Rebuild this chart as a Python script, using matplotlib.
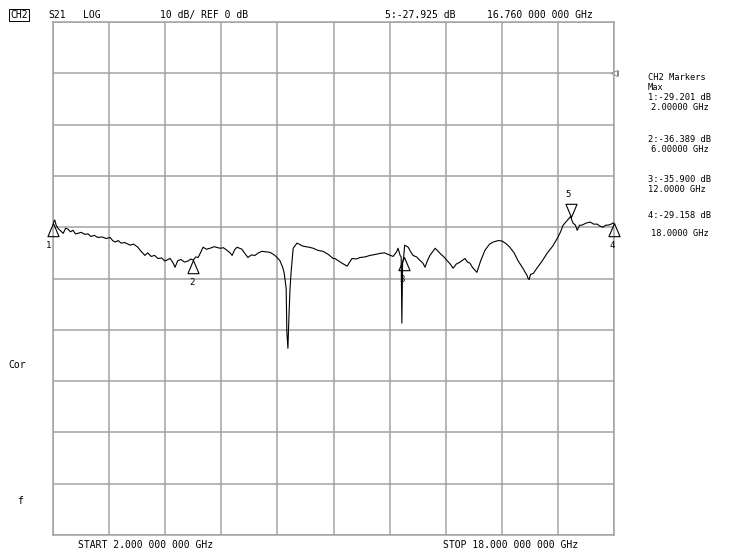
import matplotlib
matplotlib.use("Agg")
import matplotlib.pyplot as plt
from matplotlib.path import Path

# trace: frequency (GHz) / S21 (dB)
freq_ghz = [
    2.00, 2.05, 2.09, 2.15, 2.20, 2.29, 2.36, 2.43, 2.50, 2.57, 2.64, 2.71,
    2.80, 2.91, 3.00, 3.08, 3.18, 3.28, 3.40, 3.51, 3.63, 3.70, 3.77, 3.86,
    3.94, 4.05, 4.20, 4.30, 4.42, 4.50, 4.62, 4.70, 4.80, 4.90, 4.99, 5.10,
    5.19, 5.34, 5.42, 5.48, 5.56, 5.65, 5.75, 5.85, 5.93, 6.00, 6.07, 6.14,
    6.22, 6.28, 6.38, 6.48, 6.60, 6.76, 6.86, 6.96, 7.05, 7.11, 7.18, 7.25,
    7.39, 7.48, 7.56, 7.66, 7.76, 7.86, 7.96, 8.08, 8.19, 8.33, 8.47, 8.55,
    8.59, 8.65, 8.67, 8.70, 8.73, 8.76, 8.79, 8.85, 8.96, 9.13, 9.30, 9.42,
    9.55, 9.70, 9.85, 9.99, 10.04, 10.15, 10.24, 10.39, 10.46, 10.53, 10.65,
    10.76, 10.90, 11.04, 11.20, 11.33, 11.45, 11.56, 11.70, 11.80, 11.84,
    11.90, 11.93, 11.95, 11.97, 12.00, 12.03, 12.13, 12.20, 12.27, 12.37,
    12.47, 12.55, 12.61, 12.68, 12.75, 12.90, 13.04, 13.15, 13.24, 13.33,
    13.41, 13.50, 13.61, 13.75, 13.82, 13.89, 13.96, 14.04, 14.09, 14.20,
    14.32, 14.45, 14.55, 14.70, 14.81, 14.92, 15.03, 15.15, 15.26, 15.40,
    15.52, 15.55, 15.58, 15.62, 15.70, 15.80, 15.95, 16.09, 16.25, 16.38,
    16.47, 16.55, 16.65, 16.76, 16.83, 16.90, 16.95, 17.02, 17.09, 17.20,
    17.32, 17.42, 17.52, 17.60, 17.69, 17.76, 17.83, 17.92, 17.97, 18.00,
]
s21_db = [
    -29.2, -28.6, -29.6, -30.3, -30.6, -31.2, -30.2, -30.4, -30.9, -30.6, -31.3, -31.2,
    -31.0, -31.4, -31.3, -31.8, -31.6, -32.0, -31.9, -32.2, -32.0, -32.6, -32.9, -32.6,
    -33.1, -33.0, -33.5, -33.3, -33.9, -34.6, -35.5, -35.0, -35.7, -35.5, -36.1, -36.0,
    -36.6, -36.1, -36.9, -37.8, -36.5, -36.3, -36.8, -36.6, -36.2, -36.4, -35.8, -35.9,
    -34.8, -33.9, -34.3, -34.1, -33.8, -34.1, -34.0, -34.5, -35.0, -35.5, -34.4, -33.9,
    -34.3, -35.2, -35.9, -35.4, -35.5, -35.0, -34.7, -34.8, -34.9, -35.5, -36.5, -37.8,
    -38.8, -41.9, -50.5, -53.6, -47.2, -42.0, -38.8, -34.1, -33.1, -33.7, -33.9, -34.1,
    -34.5, -34.7, -35.3, -36.1, -36.1, -36.6, -37.0, -37.6, -36.8, -36.1, -36.2,
    -35.9, -35.8, -35.5, -35.3, -35.1, -35.0, -35.3, -35.7, -34.8, -34.1,
    -35.5, -35.8, -48.7, -37.0, -35.9, -33.5, -33.9, -34.8, -35.5, -35.8,
    -36.5, -37.0, -37.8, -36.5, -35.5, -34.1, -35.1, -35.8, -36.5, -37.2,
    -38.0, -37.2, -36.8, -36.1, -36.8, -37.0, -37.8, -38.4, -38.8, -36.5,
    -34.5, -33.3, -32.9, -32.6, -32.7, -33.2, -33.9, -35.0, -36.5, -38.0,
    -39.4, -40.0, -40.2, -39.2, -39.0, -38.0, -36.6, -35.1, -33.7, -32.2,
    -31.0, -29.6, -28.8, -27.925, -29.2, -29.6, -30.6, -29.6, -29.6, -29.2,
    -29.0, -29.4, -29.4, -29.8, -30.0, -29.6, -29.6, -29.4, -29.2, -29.158,
]

marker_ids = ["1", "2", "3", "4", "5"]
marker_freq = [2.0, 6.0, 12.0, 18.0, 16.76]
marker_db = [-29.201, -36.389, -35.900, -29.158, -27.925]

START_GHZ, STOP_GHZ = 2.0, 18.0
REF_DB, DB_PER_DIV = 0.0, 10.0

W, H = 742, 550
FONT = "DejaVu Sans Mono"
GRID = "#a3a3a3"


def px(x, y):
    return x / W, 1 - y / H


fig = plt.figure(figsize=(W / 100, H / 100), dpi=100)
ax = fig.add_axes([53 / W, 15 / H, 561 / W, 513 / H])
ax.set_xlim(START_GHZ, STOP_GHZ)
ax.set_ylim(REF_DB - 9 * DB_PER_DIV, REF_DB + DB_PER_DIV)
step = (STOP_GHZ - START_GHZ) / 10
ax.set_xticks([START_GHZ + i * step for i in range(11)])
ax.set_yticks([REF_DB - 9 * DB_PER_DIV + i * DB_PER_DIV for i in range(11)])
ax.tick_params(length=0, labelbottom=False, labelleft=False)
ax.grid(True, color=GRID, lw=1.1)
for sp in ax.spines.values():
    sp.set_color(GRID); sp.set_linewidth(1.1)

ax.plot(freq_ghz, s21_db, color="black", lw=0.8, zorder=3)

# marker triangles, apex on the trace point
tri_up = Path([(0, 0), (-0.42, -1), (0.42, -1), (0, 0)],
              [Path.MOVETO, Path.LINETO, Path.LINETO, Path.CLOSEPOLY])
tri_dn = Path([(0, 0), (-0.42, 1), (0.42, 1), (0, 0)],
              [Path.MOVETO, Path.LINETO, Path.LINETO, Path.CLOSEPOLY])
for mid, f, d in zip(marker_ids, marker_freq, marker_db):
    up = mid != "5"
    ax.plot([f], [d], marker=tri_up if up else tri_dn, ms=19, mfc="none",
            mec="black", mew=0.8, clip_on=False, zorder=4)
    off = (-1, -16) if up else (-2, 16)
    if mid == "1":
        off = (-3, -16)
    ax.annotate(mid, (f, d), xytext=off, textcoords="offset points",
                ha="center", va="center", fontsize=6.5, family=FONT, annotation_clip=False)

# reference position marker on the right edge
ax.plot([STOP_GHZ], [REF_DB], marker="<", ms=4, mfc="white", mec="#888888",
        mew=0.7, clip_on=False)
ax.plot([STOP_GHZ + 0.12], [REF_DB], marker="|", ms=4, color="#888888",
        mew=0.7, clip_on=False)

kw = dict(fontsize=7, family=FONT, color="black", va="center")
fig.text(*px(10, 15), "CH2", bbox=dict(boxstyle="square,pad=0.15", fc="white",
                                       ec="black", lw=0.7), **kw)
fig.text(*px(48, 15), "S21", **kw)
fig.text(*px(83, 15), "LOG", **kw)
fig.text(*px(160, 15), "10 dB/ REF 0 dB", **kw)
fig.text(*px(385, 15), "5:-27.925 dB", **kw)
fig.text(*px(487, 15), "16.760 000 000 GHz", **kw)

# marker readout column on the right
right = [
    (648, 78, "CH2 Markers"), (648, 88, "Max"),
    (648, 97, "1:-29.201 dB"), (651, 107, "2.00000 GHz"),
    (648, 139, "2:-36.389 dB"), (651, 149, "6.00000 GHz"),
    (648, 180, "3:-35.900 dB"), (648, 190, "12.0000 GHz"),
    (648, 216, "4:-29.158 dB"), (651, 233, "18.0000 GHz"),
]
kw_r = dict(kw, fontsize=6.3)
for x, y, t in right:
    fig.text(*px(x, y), t, **kw_r)

fig.text(*px(8, 365), "Cor", **kw)
fig.text(*px(17, 501), "f", **kw)
fig.text(*px(78, 545), "START 2.000 000 000 GHz", **kw)
fig.text(*px(443, 545), "STOP 18.000 000 000 GHz", **kw)

fig.savefig("out.png", dpi=100, facecolor="white")
